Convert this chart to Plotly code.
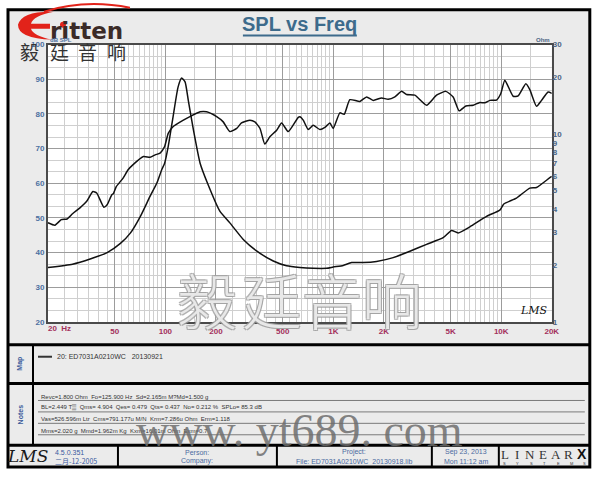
import plotly.graph_objects as go
import math

W, H = 600, 480
# the photographed page comes out slightly scaled; compensate positions
KS = 0.987
DY = 3.2


def px(x):
    return (x / KS) / W


def py(y):
    return 1 - ((y - DY) / KS) / H


# ---------------- data ----------------
spl_freq = [20, 22, 24, 26, 28, 31, 34, 37, 39, 43, 45, 48, 49, 51, 56, 60, 64, 74, 81, 87,
            93, 99, 104, 111, 128, 140, 161, 176, 202, 221, 242, 266, 284, 319, 341, 366,
            391, 419, 460, 492, 539, 618, 632, 662, 709, 759, 832, 891, 954, 998, 1094,
            1161, 1255, 1439, 1578, 1727, 1938, 2122, 2326, 2550, 2731, 3058, 3591, 4118,
            4677, 5170, 5613, 6155, 6802, 7456, 7984, 8551, 9372, 9942, 10504, 11768,
            12603, 14004, 14791, 16215, 17368, 19013, 20000]
spl_db = [48.6, 47.9, 49.5, 49.7, 51.2, 52.9, 54.8, 57.6, 57.2, 53.1, 53.8, 56.7, 57.0, 59.0,
          61.5, 63.9, 65.3, 67.7, 67.5, 68.2, 68.7, 70.6, 74.4, 76.3, 78.2, 79.2, 80.6, 80.6,
          79.2, 77.7, 74.9, 75.8, 77.4, 78.2, 77.7, 75.8, 71.3, 73.4, 75.3, 77.4, 74.9, 79.0,
          79.2, 78.2, 75.5, 76.7, 75.5, 76.1, 77.4, 75.8, 80.3, 79.9, 84.1, 83.6, 84.9, 83.9,
          84.6, 84.2, 84.9, 86.5, 85.6, 85.4, 82.5, 85.4, 86.5, 84.9, 80.9, 82.3, 82.5, 83.3,
          83.2, 83.9, 84.0, 85.9, 89.7, 85.1, 85.2, 88.7, 87.0, 82.2, 83.9, 86.3, 85.9]

imp_freq = [20, 28, 36, 45, 54, 62, 71, 81, 89, 95, 99, 104, 111, 119, 125, 131, 137, 147,
            161, 178, 211, 242, 291, 349, 439, 527, 632, 759, 912, 998, 1145, 1285, 1506,
            1809, 2273, 2857, 3591, 4508, 5058, 5538, 6502, 8173, 9806, 10360, 12330,
            14791, 16215, 19647, 20000]
imp_ohm = [1.95, 2.03, 2.17, 2.34, 2.62, 2.98, 3.65, 4.66, 5.49, 6.45, 7.0, 8.6, 12.3, 17.8,
           19.9, 19.0, 15.1, 10.5, 7.0, 5.49, 3.89, 3.37, 2.75, 2.39, 2.11, 1.99, 1.95, 1.93,
           1.93, 1.96, 2.00, 2.07, 2.07, 2.10, 2.20, 2.38, 2.59, 2.81, 3.07, 2.98, 3.21,
           3.65, 3.94, 4.25, 4.57, 5.16, 5.20, 5.90, 5.95]

x_tick_vals = [20, 50, 100, 200, 500, 1000, 2000, 5000, 10000, 20000]
x_tick_text = ["", "50", "100", "200", "500", "1K", "2K", "5K", "10K", "20K"]
x_minor_vals = ([v for v in range(25, 100, 5) if v != 50]
                + [v for v in range(150, 1000, 50) if v not in (200, 500)]
                + [v for v in range(1500, 10000, 500) if v not in (2000, 5000)]
                + [15000])
spl_tick_vals = [20, 30, 40, 50, 60, 70, 80, 90, 100]
spl_tick_text = ["20", "30", "40", "50", "60", "70", "80", "90", "100"]
ohm_tick_vals = [1, 2, 3, 4, 5, 6, 7, 8, 9, 10, 20, 30]
ohm_tick_text = ["1", "2", "3", "4", "5", "6", "7", "8", "9", "10", "20", "30"]

notes_lines = [
    "Revc=1.800 Ohm  Fo=125.900 Hz  Sd=2.165m M?Md=1.500 g",
    "BL=2.449 T\u2592  Qms= 4.904  Qes= 0.479  Qts= 0.437  No= 0.212 %  SPLo= 85.3 dB",
    "Vas=526.596m Ltr  Cms=791.177u M/N  Krm=7.286u Ohm  Erm=1.118",
    "Mms=2.020 g  Mmd=1.962m Kg  Kxm=16.01m Ohm  Exm=0.7",
]
map_entry = "20: ED7031A0210WC   20130921"

# ---------------- figure ----------------
fig = go.Figure()
fig.add_trace(go.Scatter(x=spl_freq, y=spl_db, mode="lines", yaxis="y",
                         line=dict(color="#111111", width=1.5, shape="spline", smoothing=0.5),
                         showlegend=False, hoverinfo="skip"))
fig.add_trace(go.Scatter(x=imp_freq, y=imp_ohm, mode="lines", yaxis="y2",
                         line=dict(color="#111111", width=1.5, shape="spline", smoothing=0.5),
                         showlegend=False, hoverinfo="skip"))

FONT = "Liberation Sans"
tick_blue = "#4d70a0"
tick_red = "#a3305c"

fig.update_layout(
    width=W, height=H,
    margin=dict(l=0, r=0, t=0, b=0),
    paper_bgcolor="white",
    plot_bgcolor="white",
    showlegend=False,
    xaxis=dict(
        type="log", domain=[px(48), px(552)],
        range=[math.log10(20), math.log10(20000)],
        tickvals=x_tick_vals, ticktext=x_tick_text,
        tickfont=dict(family=FONT, size=8, color=tick_red, weight="bold"),
        showgrid=True, gridcolor="#9c9c9c", gridwidth=1,
        minor=dict(tickmode="array", tickvals=x_minor_vals, showgrid=True,
                   gridcolor="#cfcfcf", gridwidth=1, ticks=""),
        showline=True, linecolor="#4a4a4a", linewidth=2, mirror=True,
        ticks="", zeroline=False, fixedrange=True,
    ),
    yaxis=dict(
        domain=[py(323), py(44)], range=[20, 100],
        tickvals=spl_tick_vals, ticktext=spl_tick_text,
        tickfont=dict(family=FONT, size=8, color=tick_blue, weight="bold"),
        showgrid=True, gridcolor="#9c9c9c", gridwidth=1,
        minor=dict(tick0=20, dtick=10 / 3, showgrid=True, gridcolor="#cfcfcf",
                   gridwidth=1, ticks=""),
        showline=True, linecolor="#4a4a4a", linewidth=2, mirror=True,
        ticks="", zeroline=False, fixedrange=True,
    ),
    yaxis2=dict(
        overlaying="y", side="right", type="log",
        range=[0, math.log10(30)],
        tickvals=ohm_tick_vals, ticktext=ohm_tick_text,
        tickfont=dict(family=FONT, size=8, color="#4b6584", weight="bold"),
        showgrid=False, showline=False, ticks="", zeroline=False, fixedrange=True,
    ),
)

shapes = []


def rect(x0, y0, x1, y1, fill=None, lc=None, lw=0, layer="below"):
    shapes.append(dict(type="rect", xref="paper", yref="paper",
                       x0=px(x0), x1=px(x1), y0=py(y1), y1=py(y0),
                       fillcolor=fill if fill else "rgba(0,0,0,0)",
                       line=dict(color=lc if lc else "rgba(0,0,0,0)", width=lw),
                       layer=layer))


def hline(x0, x1, y, color="black", w=1, layer="above"):
    shapes.append(dict(type="line", xref="paper", yref="paper",
                       x0=px(x0), x1=px(x1), y0=py(y), y1=py(y),
                       line=dict(color=color, width=w), layer=layer))


def vline(x, y0, y1, color="black", w=1, layer="above"):
    shapes.append(dict(type="line", xref="paper", yref="paper",
                       x0=px(x), x1=px(x), y0=py(y0), y1=py(y1),
                       line=dict(color=color, width=w), layer=layer))


def path(pts_cmds, fill=None, lc=None, lw=0, layer="above"):
    s = ""
    for cmd, vals in pts_cmds:
        s += cmd + " "
        coords = []
        for i in range(0, len(vals), 2):
            coords.append(f"{px(vals[i]):.5f},{py(vals[i + 1]):.5f}")
        s += " ".join(coords) + " "
    shapes.append(dict(type="path", xref="paper", yref="paper", path=s.strip(),
                       fillcolor=fill if fill else "rgba(0,0,0,0)",
                       line=dict(color=lc if lc else "rgba(0,0,0,0)", width=lw),
                       layer=layer))


# panel background and plot area
rect(8, 9, 590, 469, fill="#ebebeb")
rect(48, 44, 552, 323, fill="white")
# outer frame and dividers
rect(8, 9, 590, 469, lc="black", lw=3, layer="above")
hline(8, 590, 346, w=3)
hline(8, 590, 385, w=3)
hline(8, 590, 447, w=3)
vline(33, 346, 447, w=2)
for xv in (118, 277, 432, 499):
    vline(xv, 447, 469, w=2)
# notes rules
for yv in (402, 413.5, 425, 436.5):
    hline(38, 585, yv, color="#7a7a7a", w=1)
# map legend swatch
hline(38, 52, 358, color="#333333", w=2)
# title underline
hline(243, 357, 35, color="#3d6b8c", w=2)

# Eritten logo swoosh
path([("M", [54, 11]), ("Q", [22, 10, 18, 24]), ("Q", [18, 38, 52, 39]),
      ("Q", [33, 35, 31, 28]), ("L", [50, 28]), ("L", [50, 23]), ("L", [31, 23]),
      ("Q", [33, 15, 54, 11]), ("Z", [])], fill="#e2231a")
path([("M", [44, 11]), ("Q", [85, -2, 130, 7])], lc="#e2231a", lw=2)
shapes.append(dict(type="circle", xref="paper", yref="paper",
                   x0=px(60), x1=px(66), y0=py(27), y1=py(21),
                   fillcolor="#e2231a", line=dict(width=0), layer="above"))

fig.update_layout(shapes=shapes)

anns = []


def ann(text, x, y, size=7, color="#333333", xa="center", ya="middle", family=FONT,
        weight="normal", style="normal", angle=0, shadow=None):
    f = dict(family=family, size=size, color=color, weight=weight, style=style)
    if shadow:
        f["shadow"] = shadow
    anns.append(dict(text=text, x=px(x), y=py(y), xref="paper", yref="paper",
                     xanchor=xa, yanchor=ya, showarrow=False, font=f, textangle=angle))


# title
ann("SPL vs Freq", 300, 23, size=20, color="#3d6b8c", weight="bold")
# logo text
ann("ritten", 48, 30, size=23, color="#3b2b28", xa="left", family="DejaVu Sans", weight="bold")
for ch, cx in zip("毅廷音响", (30, 60, 88, 117)):
    ann(ch, cx, 51, size=19, color="#333333", family="Noto Sans CJK SC")
# axis captions
ann("dB SPL", 48, 39, size=6, color=tick_blue, xa="left", weight="bold")
ann("Ohm", 552, 39, size=6, color="#4b6584", xa="right", weight="bold")
ann("20  Hz", 46, 329.5, size=8, color=tick_red, xa="left", weight="bold")
# LMS mark in plot
ann("LMS", 534, 311, size=11, color="#111111", family="DejaVu Serif", style="italic")
# watermark CJK (outlined)
wm_shadow = "1px 1px 0 #a0a0a0, -1px -1px 0 #a0a0a0, 1px -1px 0 #a0a0a0, -1px 1px 0 #a0a0a0"
for ch, cx in zip("毅廷音响", (207, 272, 332, 392)):
    ann(ch, cx, 299, size=60, color="rgba(250,250,250,0.8)", family="Noto Sans CJK SC",
        weight=300, shadow=wm_shadow)
# map panel
ann("Map", 20, 365, size=7, color="#3a5a9a", weight="bold", angle=-90)
ann(map_entry, 55, 358, size=7, color="#333333", xa="left")
# notes panel
ann("Notes", 20, 416, size=7, color="#3a5a9a", weight="bold", angle=-90)
for t, yv in zip(notes_lines, (398, 409.5, 421, 432.5)):
    ann(t, 39, yv, size=6, color="#333333", xa="left")
# footer
ann("LMS", 28, 458, size=17, color="#1a1a1a", family="DejaVu Serif", style="italic")
ann("4.5.0.351", 53, 454, size=7, color="#3a5aa0", xa="left")
ann("二月-12-2005", 53, 463, size=7, color="#3a5aa0", xa="left", family="Noto Sans CJK SC")
ann("Person:", 197, 454, size=7, color="#4a6aa0")
ann("Company:", 197, 463, size=7, color="#4a6aa0")
ann("Project:", 354, 454, size=7, color="#4a6aa0")
ann("File: ED7031A0210WC  20130918.lib", 354, 463, size=7, color="#4a6aa0")
ann("Sep 23, 2013", 466, 454, size=7, color="#4a6aa0")
ann("Mon 11:12 am", 466, 463, size=7, color="#4a6aa0")
for ch, cx in zip("LINEAR", (505, 517, 530, 543, 556, 569)):
    ann(ch, cx, 456, size=13, color="#333333", family="Liberation Serif")
ann("X", 582, 456, size=14, color="#111111", family="Liberation Sans", weight="bold")
for ch, cx in zip("SYSTEMS", (505, 518, 532, 545, 559, 572, 585)):
    ann(ch, cx, 465.5, size=4, color="#333333")
# url watermark
ann("www. yt689. com", 300, 432, size=46, color="rgba(110,110,110,0.85)",
    family="Liberation Serif")

fig.update_layout(annotations=anns)

fig.write_html(
    "out.html", config={"displayModeBar": False},
    post_script=("document.body.style.margin='0';"
                 "document.documentElement.style.overflow='hidden';"
                 "document.body.style.overflow='hidden';"))
